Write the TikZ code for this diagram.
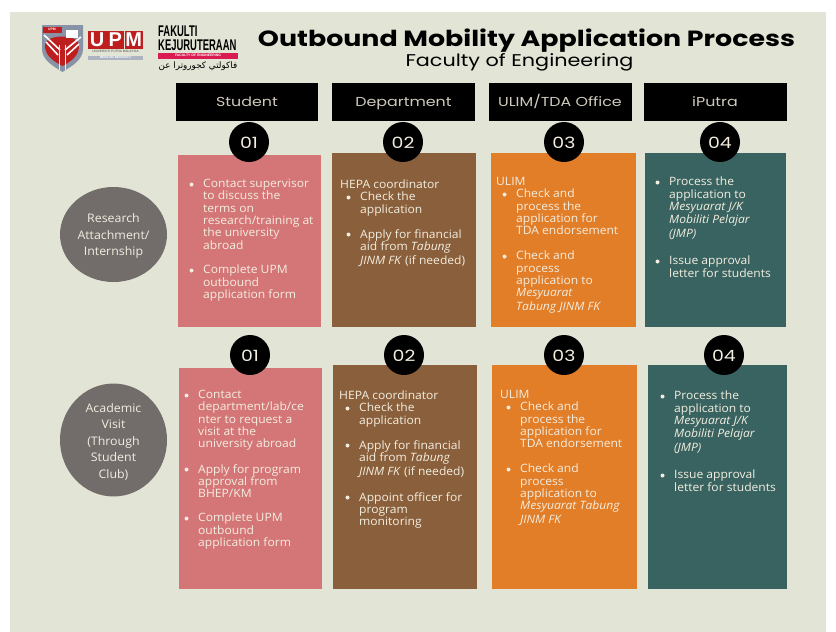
\documentclass[tikz,border=0pt]{standalone}
\usepackage{fontspec}
\setmainfont[FakeStretch=1.05]{Open Sans}
\newfontfamily\headfont[FakeStretch=1.22]{Poppins}
\newfontfamily\arabicfont[Script=Arabic]{DejaVu Sans}
\newfontfamily\condfont{Liberation Sans}
\newfontfamily\narrowfont[FakeStretch=0.61]{Liberation Sans}
\TeXXeTstate=1
\definecolor{bgc}{HTML}{E2E5D5}
\definecolor{rosec}{HTML}{D47677}
\definecolor{brownc}{HTML}{8A5F3B}
\definecolor{orangec}{HTML}{E27D28}
\definecolor{tealc}{HTML}{396360}
\definecolor{greyc}{HTML}{726C6B}
\definecolor{txtc}{HTML}{F3EEE0}
\definecolor{hdrtxt}{HTML}{CFC9BC}
\definecolor{shieldc}{HTML}{8894A6}
\definecolor{redc}{HTML}{BE1E1E}
\definecolor{pinkc}{HTML}{D81B50}
\usetikzlibrary{shapes.geometric}
\tikzset{
 x=1pt,y=-1pt,
 hdr/.style={fill=black,text=hdrtxt,inner sep=0,minimum width=#1,minimum height=38pt,text height=10pt,text depth=1.5pt,font=\headfont\fontsize{13}{14}\selectfont},
 num/.style={circle,fill=black,text=txtc,inner sep=0,minimum size=40pt,text height=12pt,text depth=0pt,font=\headfont\fontsize{15.5}{18}\selectfont},
 body/.style={anchor=north west,inner sep=0,align=left,text=txtc,font=\fontsize{11.5}{12.3}\selectfont},
 side/.style={ellipse,fill=greyc,text=txtc,inner sep=0,outer sep=0,align=center,font=\fontsize{11.8}{16.5}\selectfont},
}
\newcommand{\panel}[6]{\fill[#6] (#2,#3) rectangle (#4,#5); \coordinate (#1) at (#2,#3);}
\newcommand{\bul}[4]{\node[body] (#1) at (#2,#3) {#4}; \fill[txtc] ([xshift=-11.5pt,yshift=-5.5pt]#1.north west) circle (2pt);}
\begin{document}
\begin{tikzpicture}
\useasboundingbox (0,0) rectangle (836,632);
\fill[white] (0,0) rectangle (836,632);
\fill[bgc] (10,12) rectangle (826,632);

% UPM logo
\fill[shieldc] (42,25) -- (83,25) -- (83,49) .. controls (83,60) and (72,66) .. (62.5,72) .. controls (53,66) and (42,60) .. (42,49) -- cycle;
\fill[redc] (45,44) .. controls (47,34) and (77,34) .. (79,44) .. controls (80,56) and (70,62) .. (62.5,66) .. controls (55,62) and (44,56) .. (45,44) -- cycle;
\fill[redc] (43,26.5) rectangle (62,33);
\draw[white,line width=1.6pt] (44,35) -- (60,50) (46,42) -- (58,55) (81,37) -- (65,50) (79,44) -- (67,55);
\fill[white] (66,30) rectangle (78,38);
\draw[white!80!shieldc,line width=1.6pt] (59.5,45) -- (59.5,70) (65.5,45) -- (65.5,70);
\node[inner sep=0,text=white,font=\condfont\bfseries\fontsize{3.4}{4}\selectfont] (upmmini) at (52,29.8) {UPM};
\foreach \n/\a/\l in {lu/97.2/U,lp/115.3/P,lm/133.7/M}{
 \fill[redc] (\a-9,30.5) rectangle (\a+9,48.5);
 \node[inner sep=0,text=white,font=\condfont\bfseries\fontsize{20}{20}\selectfont] (\n) at (\a,39.5) {\l};}
\node[inner sep=0,font=\condfont\fontsize{3.2}{3}\selectfont,text=black!70] (upmname) at (115.5,51.8) {UNIVERSITI PUTRA MALAYSIA};
\fill[shieldc!70] (88,55.5) rectangle (143,60);
\node[inner sep=0,font=\condfont\bfseries\fontsize{3.1}{3}\selectfont,text=white] (upmmotto) at (115.5,57.8) {BERILMU BERBAKTI};

% Faculty logo
\node[inner sep=0,anchor=base west,font=\narrowfont\bfseries\fontsize{15.5}{17}\selectfont] (fak) at (158,36.5) {FAKULTI};
\node[inner sep=0,anchor=base west,font=\narrowfont\bfseries\fontsize{15.5}{17}\selectfont] (kej) at (158,50.5) {KEJURUTERAAN};
\fill[pinkc] (158,53) rectangle (238,58.5);
\node[inner sep=0,text=white,font=\condfont\bfseries\fontsize{3.4}{4}\selectfont] (foe) at (198,55.8) {FACULTY OF ENGINEERING};
\node[inner sep=0,font=\arabicfont\fontsize{8.8}{9}\selectfont] (jawi) at (198,66.5) {\beginR فاكولتي كجوروترا عن\endR};

% Title
\node[inner sep=0,font=\headfont\bfseries\fontsize{22}{24}\selectfont] (title) at (526.5,40.5) {Outbound Mobility Application Process};
\node[inner sep=0,font=\headfont\fontsize{17}{18}\selectfont] (subtitle) at (519.5,62) {Faculty of Engineering};

% Column headers
\node[hdr=142pt] (h1) at (247,102) {Student};
\node[hdr=143pt] (h2) at (403.5,102) {Department};
\node[hdr=143pt] (h3) at (560,102) {ULIM/TDA Office};
\node[hdr=143pt] (h4) at (715,102) {iPutra};

% Row labels
\node[side,minimum width=107pt,minimum height=95pt] (r1) at (113.5,234.5) {\rule{0pt}{12pt}Research\\Attachment/\\Internship};
\node[side,minimum width=107pt,minimum height=110pt] (r2) at (113.5,440) {\rule{0pt}{12pt}Academic\\Visit\\(Through\\Student\\Club)};

% Panels row 1
\panel{p11}{178}{155}{321}{327}{rosec}
\panel{p12}{332}{153}{476}{327}{brownc}
\panel{p13}{491}{153}{636}{327}{orangec}
\panel{p14}{645}{153}{786}{327}{tealc}
% Panels row 2
\panel{p21}{179}{368}{322}{589}{rosec}
\panel{p22}{333}{365}{477}{589}{brownc}
\panel{p23}{492}{365}{637}{589}{orangec}
\panel{p24}{648}{365}{787}{589}{tealc}

% Number badges
\node[num] (n11) at (249,142) {01};
\node[num] (n12) at (403,142) {02};
\node[num] (n13) at (564,142) {03};
\node[num] (n14) at (720,142) {04};
\node[num] (n21) at (250,355) {01};
\node[num] (n22) at (404,355) {02};
\node[num] (n23) at (564,355) {03};
\node[num] (n24) at (724,355) {04};

% Row 1 text
\bul{a1}{203}{179}{Contact supervisor\\to discuss the\\terms on\\research/training at\\the university\\abroad}
\bul{a2}{203}{265}{Complete UPM\\outbound\\application form}
\node[body] (b0) at (340,180) {HEPA coordinator};
\bul{b1}{360}{192}{Check the\\application}
\bul{b2}{360}{229}{Apply for financial\\aid from \textit{Tabung}\\[1.5pt]\textit{JINM FK} (if needed)}
\node[body] (c0) at (496,177) {ULIM};
\bul{c1}{516}{189}{Check and\\process the\\application for\\TDA endorsement}
\bul{c2}{516}{251}{Check and\\process\\application to\\\textit{Mesyuarat}\\[1.5pt]\textit{Tabung JINM FK}}
\bul{d1}{669}{177}{Process the\\application to\\\textit{Mesyuarat J/K}\\[1pt]\textit{Mobiliti Pelajar}\\[1.5pt]\textit{(JMP)}}
\bul{d2}{669}{256}{Issue approval\\letter for students}

% Row 2 text
\bul{e1}{198}{390}{Contact\\department/lab/ce\\nter to request a\\visit at the\\university abroad}
\bul{e2}{198}{464}{Apply for program\\approval from\\BHEP/KM}
\bul{e3}{198}{513}{Complete UPM\\outbound\\application form}
\node[body] (f0) at (339,391) {HEPA coordinator};
\bul{f1}{359}{403}{Check the\\application}
\bul{f2}{359}{440}{Apply for financial\\aid from \textit{Tabung}\\[1.5pt]\textit{JINM FK} (if needed)}
\bul{f3}{359}{492}{Appoint officer for\\program\\monitoring}
\node[body] (g0) at (500,390) {ULIM};
\bul{g1}{520}{402}{Check and\\process the\\application for\\TDA endorsement}
\bul{g2}{520}{464}{Check and\\process\\application to\\\textit{Mesyuarat Tabung}\\[1.5pt]\textit{JINM FK}}
\bul{k1}{674}{391}{Process the\\application to\\\textit{Mesyuarat J/K}\\[1pt]\textit{Mobiliti Pelajar}\\[1.5pt]\textit{(JMP)}}
\bul{k2}{674}{470}{Issue approval\\letter for students}
\end{tikzpicture}
\end{document}
